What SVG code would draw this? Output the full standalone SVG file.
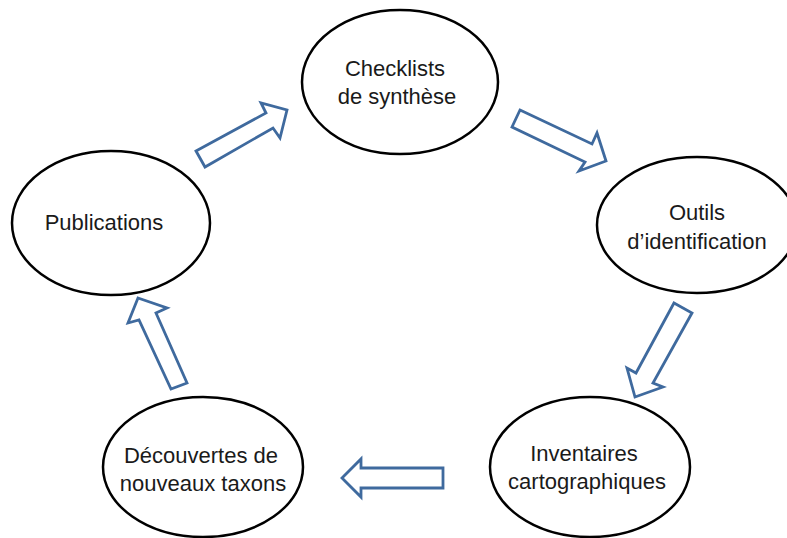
<svg xmlns="http://www.w3.org/2000/svg" width="787" height="538" viewBox="0 0 787 538">
<style>
.node ellipse{fill:#fff;stroke:#000;stroke-width:2.5}
.node text{font-family:"Liberation Sans",Arial,sans-serif;font-size:22px;fill:#1a1a1a;text-anchor:middle}
.arrow{fill:#fff;stroke:#3f6a9e;stroke-width:2.8;stroke-linejoin:miter}
</style>
<rect width="787" height="538" fill="#fff"/>
<g id="connectors">
<polygon class="arrow" points="196,151 266,113 261,103 287,110 280,138 273,128 205,167"/>
<polygon class="arrow" points="520,110 592,144 597,133 606,161 579,171 585,162 512,127"/>
<polygon class="arrow" points="674,303 692,313 653,383 663,387 635,397 627,368 636,373"/>
<polygon class="arrow" points="342,478 361,459 361,468 443,468 443,488 361,488 361,497"/>
<polygon class="arrow" points="138,298 167,308 156,313 187,383 171,389 139,320 128,323"/>
</g>
<g id="checklists" class="node">
<ellipse cx="400" cy="82" rx="98" ry="72"/>
<text x="395" y="76">Checklists</text>
<text x="397" y="104">de synthèse</text>
</g>
<g id="outils" class="node">
<ellipse cx="697" cy="225" rx="100" ry="68"/>
<text x="697" y="220">Outils</text>
<text x="697" y="249">d’identification</text>
</g>
<g id="inventaires" class="node">
<ellipse cx="590" cy="467" rx="100" ry="70"/>
<text x="584" y="461">Inventaires</text>
<text x="587" y="489">cartographiques</text>
</g>
<g id="decouvertes" class="node">
<ellipse cx="203" cy="467" rx="100" ry="70"/>
<text x="201" y="463">Découvertes de</text>
<text x="203" y="491">nouveaux taxons</text>
</g>
<g id="publications" class="node">
<ellipse cx="111" cy="223" rx="99" ry="72"/>
<text x="104" y="230">Publications</text>
</g>
</svg>
